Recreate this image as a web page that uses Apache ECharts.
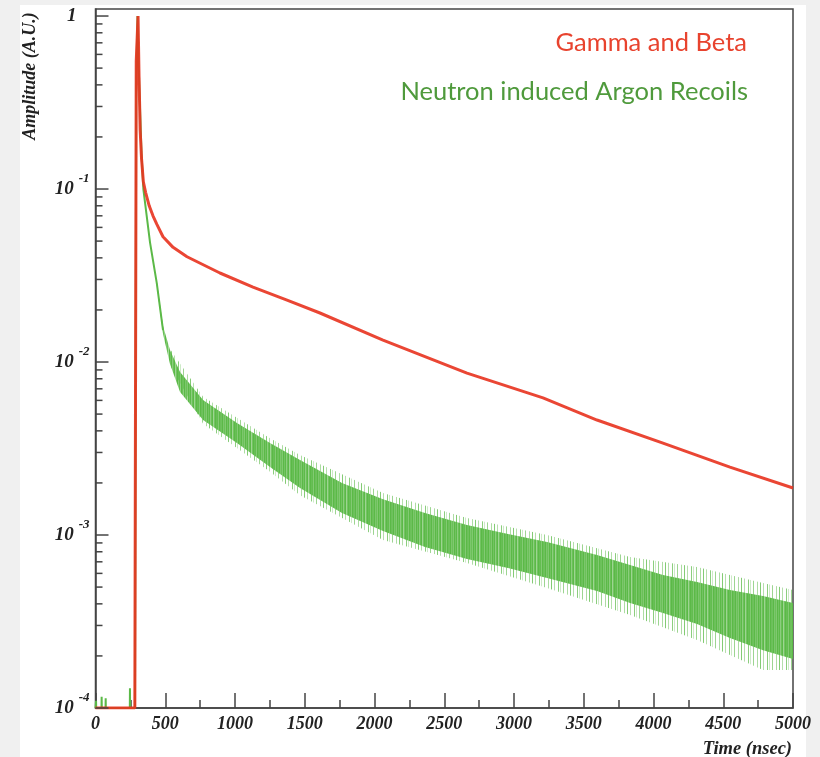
<!DOCTYPE html>
<html>
<head>
<meta charset="utf-8">
<script src="https://cdn.jsdelivr.net/npm/echarts@6/dist/echarts.min.js"></script>
<style>
  html, body { margin: 0; padding: 0; background: #f0f0f0; }
  #panel { position: absolute; left: 20px; top: 5px; width: 786px; height: 752px; background: #ffffff; }
  #chart { position: absolute; left: 0; top: 0; width: 820px; height: 757px; }
</style>
</head>
<body>
<div id="panel"></div>
<div id="chart"></div>
<script>
// Gamma/beta pulse shape (ns, amplitude)
const redTime = [0, 282, 292, 305, 312, 320, 330, 343, 360, 385, 412, 440, 484, 556, 656, 892, 1129, 1373, 1609, 2061, 2663, 3208, 3595, 4068, 4548, 5000];
const redAmp  = [1e-4, 1e-4, 0.55, 1.0, 0.45, 0.22, 0.15, 0.11, 0.095, 0.08, 0.070, 0.0625, 0.053, 0.046, 0.0406, 0.0327, 0.0271, 0.0228, 0.0192, 0.0134, 0.00863, 0.0062, 0.00462, 0.0034, 0.00247, 0.00187];

// Neutron recoil pulse: baseline, rise and fast component
const greenTime = [0, 3, 4, 5, 43, 44, 45, 72, 73, 74, 246, 247, 248, 283, 292, 301, 310, 320, 330, 343, 391, 439, 484];
const greenAmp  = [1e-4, 1e-4, 1.1e-4, 1e-4, 1e-4, 1.16e-4, 1e-4, 1e-4, 1.14e-4, 1e-4, 1e-4, 1.3e-4, 1e-4, 1e-4, 0.4, 1.0, 0.5, 0.28, 0.16, 0.1, 0.049, 0.0287, 0.0153];

// Neutron recoil pulse: noisy slow tail, dense core of the spread
const bandTime = [439, 484, 534, 606, 771, 1014, 1251, 1466, 1767, 2061, 2362, 2663, 2957, 3237, 3595, 3832, 4068, 4312, 4548, 4785, 5000];
const bandLow  = [0.0280, 0.01452, 0.00974, 0.00671, 0.00462, 0.00340, 0.00247, 0.00187, 0.00134, 0.001055, 0.000852, 0.000727, 0.000645, 0.000564, 0.000475, 0.000404, 0.000354, 0.000306, 0.000254, 0.000216, 0.000192];
const bandHigh = [0.0295, 0.01615, 0.01173, 0.00876, 0.00603, 0.00444, 0.00340, 0.00271, 0.00200, 0.00161, 0.00134, 0.001143, 0.001013, 0.000911, 0.000766, 0.000671, 0.000587, 0.000535, 0.000481, 0.000444, 0.000404];

// Neutron recoil pulse: reach of the largest noise spikes
const spikeTime = [534, 771, 1251, 1466, 2061, 2663, 3237, 3832, 4312, 4785, 5000];
const spikeLow  = [0.0096, 0.0044, 0.00232, 0.0017, 0.000936, 0.000689, 0.000494, 0.000345, 0.000247, 0.000166, 0.000166];
const spikeHigh = [0.0119, 0.0063, 0.00362, 0.0029, 0.00175, 0.001254, 0.001, 0.000746, 0.000653, 0.000528, 0.000481];

// Axis ticks
const xTicks = [0, 500, 1000, 1500, 2000, 2500, 3000, 3500, 4000, 4500, 5000];
const yDecades = [-4, -3, -2, -1, 0];

const RED = '#e8321e';
const GREEN = '#5bb947';
const AXIS = '#444444';
const serif = '"Liberation Serif", "Times New Roman", serif';
const sans = 'Lato, "Open Sans", sans-serif';

// y tick marks on the log axis: majors at decades, minors at 2..9
const yTickMarks = [];
yDecades.forEach(function (e) {
  yTickMarks.push([0, Math.pow(10, e), 13]);
  if (e < 0) {
    for (let m = 2; m <= 9; m++) yTickMarks.push([0, m * Math.pow(10, e), 7]);
  }
});

// column textures for the noisy tail (one alpha per pixel column)
function columnTexture(alphas) {
  const c = document.createElement('canvas');
  c.width = alphas.length; c.height = 1;
  const ctx = c.getContext('2d');
  alphas.forEach(function (a, i) {
    ctx.fillStyle = 'rgba(91,185,71,' + a + ')';
    ctx.fillRect(i, 0, 1, 1);
  });
  return { image: c, repeat: 'repeat' };
}
const coreTexture = columnTexture([0.95, 0.7, 0.9, 1, 0.6, 0.85, 1, 0.75, 0.95, 0.65, 1, 0.9, 0.7, 1, 0.8, 0.9, 0.55, 1, 0.85]);
const spikeTexture = columnTexture([0.75, 0, 0, 0.45, 0, 0, 0, 0.7, 0, 0.3, 0, 0, 0.6, 0, 0, 0, 0.5, 0, 0]);

function bandSeries(times, lows, highs, fill, z) {
  return {
    type: 'custom',
    data: [[times[0], lows[0]]],
    silent: true,
    clip: true,
    z: z,
    renderItem: function (params, api) {
      const pts = [];
      for (let i = 0; i < times.length; i++) pts.push(api.coord([times[i], highs[i]]));
      for (let i = times.length - 1; i >= 0; i--) pts.push(api.coord([times[i], lows[i]]));
      return { type: 'polygon', shape: { points: pts }, style: { fill: fill } };
    }
  };
}

const chart = echarts.init(document.getElementById('chart'), null, { renderer: 'canvas' });

const labelBase = { fontFamily: serif, fontWeight: 'bold', fontStyle: 'italic', color: '#222' };

chart.setOption({
  backgroundColor: 'transparent',
  animation: false,
  grid: { left: 95.5, right: 27, top: 9, bottom: 49, show: true, borderColor: AXIS, borderWidth: 1.5, backgroundColor: 'transparent' },
  xAxis: {
    type: 'value', min: 0, max: 5000, interval: 500,
    axisLine: { show: true, lineStyle: { color: AXIS, width: 1.5 } },
    axisTick: { show: true, inside: true, length: 15, lineStyle: { color: AXIS, width: 1.5 } },
    minorTick: { show: true, splitNumber: 2, length: 8, lineStyle: { color: AXIS, width: 1.5 } },
    splitLine: { show: false },
    axisLabel: Object.assign({ fontSize: 18, margin: 7, formatter: function (v) { return xTicks.indexOf(v) >= 0 ? String(v) : ''; } }, labelBase)
  },
  yAxis: {
    type: 'log', logBase: 10, min: 1e-4, max: 1.098,
    axisLine: { show: true, lineStyle: { color: AXIS, width: 1.5 } },
    axisTick: { show: false },
    splitLine: { show: false },
    axisLabel: {
      margin: 6,
      formatter: function (v) {
        const l = Math.log10(v);
        const e = Math.round(l);
        if (Math.abs(l - e) > 1e-6 || yDecades.indexOf(e) < 0) return '';
        if (e === 0) return '{b|1}{sp|}';
        return '{b|10}{s|' + e + '}';
      },
      rich: {
        b: Object.assign({ fontSize: 19, verticalAlign: 'middle', lineHeight: 34 }, labelBase),
        s: Object.assign({ fontSize: 13, verticalAlign: 'top', lineHeight: 34, padding: [0, 0, 0, 5] }, labelBase),
        sp: { width: 13, lineHeight: 34 }
      }
    }
  },
  series: [
    bandSeries(spikeTime, spikeLow, spikeHigh, spikeTexture, 1),
    bandSeries(bandTime, bandLow, bandHigh, coreTexture, 2),
    {
      name: 'Neutron induced Argon Recoils',
      type: 'line',
      data: greenTime.map(function (t, i) { return [t, greenAmp[i]]; }),
      showSymbol: false,
      clip: false,
      lineStyle: { color: GREEN, width: 2 },
      z: 3
    },
    {
      name: 'Gamma and Beta',
      type: 'line',
      data: redTime.map(function (t, i) { return [t, redAmp[i]]; }),
      showSymbol: false,
      clip: true,
      lineStyle: { color: RED, width: 3, opacity: 0.9 },
      z: 4
    },
    {
      // inside tick marks on the log axis
      type: 'custom',
      data: yTickMarks,
      silent: true,
      clip: false,
      z: 5,
      renderItem: function (params, api) {
        const p = api.coord([0, api.value(1)]);
        return { type: 'line', shape: { x1: p[0], y1: p[1], x2: p[0] + api.value(2), y2: p[1] }, style: { stroke: AXIS, lineWidth: 1.5 } };
      }
    }
  ],
  graphic: [
    { type: 'text', x: 747, y: 43, style: { text: 'Gamma and Beta', fill: '#e8432e', font: '25.5px ' + sans, textAlign: 'right', textVerticalAlign: 'middle' } },
    { type: 'text', x: 748, y: 92, style: { text: 'Neutron induced Argon Recoils', fill: '#4f9a3c', font: '25.5px ' + sans, textAlign: 'right', textVerticalAlign: 'middle' } },
    { type: 'text', x: 792, y: 749, style: { text: 'Time (nsec)', fill: '#222', font: 'italic bold 18.5px ' + serif, textAlign: 'right', textVerticalAlign: 'middle' } },
    { type: 'text', x: 30, y: 76, rotation: Math.PI / 2, style: { text: 'Amplitude (A.U.)', fill: '#222', font: 'italic bold 18px ' + serif, textAlign: 'center', textVerticalAlign: 'middle' } }
  ]
});
</script>
</body>
</html>
